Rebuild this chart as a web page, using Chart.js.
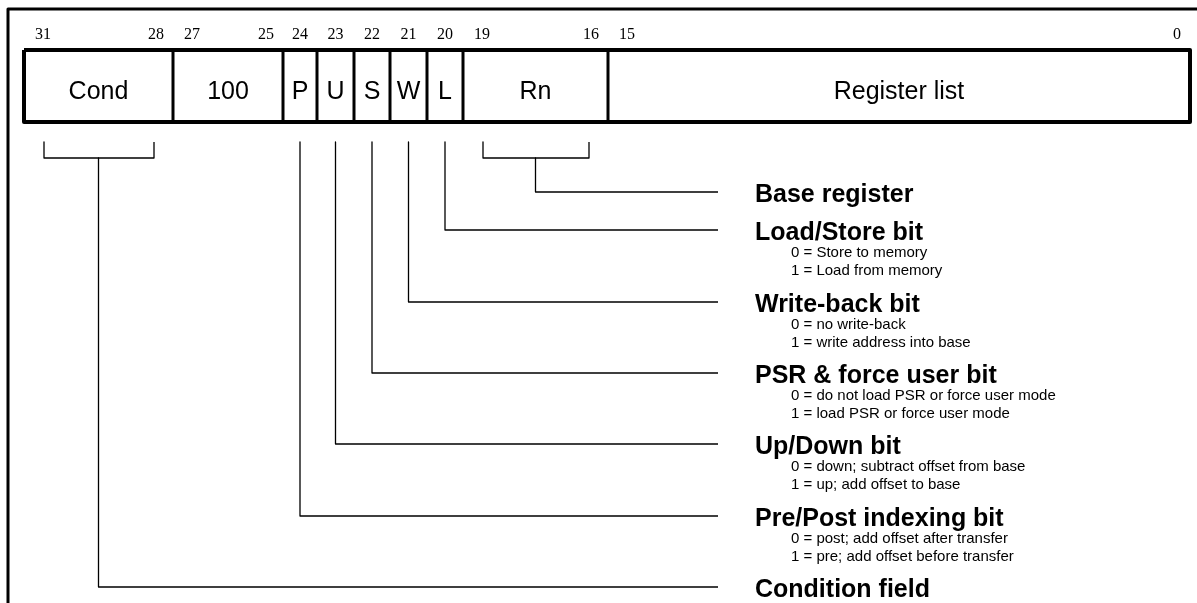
<!DOCTYPE html>
<html lang="en">
<head>
    <meta charset="UTF-8">
    <title>Block data transfer</title>
    <script src="https://cdn.jsdelivr.net/npm/chart.js"></script>
    <style>
        body { margin: 0; background: #fff; }
        canvas { display: block; }
    </style>
</head>
<body>
    <canvas id="diagram" width="1197" height="603"></canvas>

    <script>
        // fields of the instruction word, left to right
        const fieldNames = ['Cond', '100', 'P', 'U', 'S', 'W', 'L', 'Rn', 'Register list'];
        const fieldHiBits = [31, 27, 24, 23, 22, 21, 20, 19, 15];
        const fieldLoBits = [28, 25, 24, 23, 22, 21, 20, 16, 0];
        // field edges along the word (diagram units)
        const fieldEdges = [24, 173, 283, 317, 354, 390, 427, 463, 608, 1190];

        // descriptions, top to bottom, and the field each one points at
        const descFields = ['Rn', 'L', 'W', 'S', 'U', 'P', 'Cond'];
        const descTitles = ['Base register', 'Load/Store bit', 'Write-back bit', 'PSR & force user bit',
            'Up/Down bit', 'Pre/Post indexing bit', 'Condition field'];
        const descLines = [
            [],
            ['0 = Store to memory', '1 = Load from memory'],
            ['0 = no write-back', '1 = write address into base'],
            ['0 = do not load PSR or force user mode', '1 = load PSR or force user mode'],
            ['0 = down; subtract offset from base', '1 = up; add offset to base'],
            ['0 = post; add offset after transfer', '1 = pre; add offset before transfer'],
            []
        ];
        const descRows = [192, 230, 302, 373, 444, 516, 587];

        const boxTop = 50, boxBottom = 122;
        const leaderTop = 142, bracketY = 158, leaderEnd = 718;
        const titleX = 755, subX = 791;

        const seg = (pts, width) => ({
            data: pts.map(p => ({ x: p[0], y: p[1] })),
            showLine: true,
            borderColor: '#000',
            borderWidth: width,
            pointRadius: 0,
            borderJoinStyle: 'round',
            tension: 0
        });

        const datasets = [];
        // outer frame
        datasets.push(seg([[8, 603], [8, 9], [1197, 9]], 3));
        // word box
        const L0 = fieldEdges[0], R0 = fieldEdges[fieldEdges.length - 1];
        datasets.push(seg([[L0, boxTop], [R0, boxTop], [R0, boxBottom], [L0, boxBottom], [L0, boxTop]], 4));
        for (let i = 1; i < fieldEdges.length - 1; i++) {
            datasets.push(seg([[fieldEdges[i], boxTop], [fieldEdges[i], boxBottom]], 3));
        }
        // leaders
        descFields.forEach((f, i) => {
            const k = fieldNames.indexOf(f);
            const a = fieldEdges[k], b = fieldEdges[k + 1];
            const mid = (a + b) / 2;
            const y = descRows[i];
            if (fieldHiBits[k] === fieldLoBits[k]) {
                datasets.push(seg([[mid, leaderTop], [mid, y], [leaderEnd, y]], 1.3));
            } else {
                const l = a + 20, r = b - 19;
                datasets.push(seg([[l, leaderTop], [l, bracketY], [r, bracketY], [r, leaderTop]], 1.3));
                datasets.push(seg([[mid, bracketY], [mid, y], [leaderEnd, y]], 1.3));
            }
        });

        const labels = {
            id: 'labels',
            afterDatasetsDraw(chart) {
                const ctx = chart.ctx;
                const X = v => chart.scales.x.getPixelForValue(v);
                const Y = v => chart.scales.y.getPixelForValue(v);
                ctx.save();
                ctx.fillStyle = '#000';
                ctx.textBaseline = 'middle';

                // bit numbers
                ctx.font = '16px "Liberation Serif", serif';
                fieldNames.forEach((n, k) => {
                    const a = fieldEdges[k], b = fieldEdges[k + 1];
                    if (fieldHiBits[k] === fieldLoBits[k]) {
                        ctx.textAlign = 'center';
                        ctx.fillText(String(fieldHiBits[k]), X((a + b) / 2), Y(35));
                    } else {
                        ctx.textAlign = 'left';
                        ctx.fillText(String(fieldHiBits[k]), X(a + 11), Y(35));
                        ctx.textAlign = 'right';
                        ctx.fillText(String(fieldLoBits[k]), X(b - 9), Y(35));
                    }
                });

                // field names
                ctx.font = '25px "Liberation Sans", Arial, sans-serif';
                ctx.textAlign = 'center';
                fieldNames.forEach((n, k) => {
                    ctx.fillText(n, X((fieldEdges[k] + fieldEdges[k + 1]) / 2), Y(92));
                });

                // descriptions
                ctx.textAlign = 'left';
                descTitles.forEach((t, i) => {
                    ctx.font = 'bold 25px "Liberation Sans", Arial, sans-serif';
                    ctx.fillText(t, X(titleX), Y(descRows[i] + 3));
                    ctx.font = '15px "Liberation Sans", Arial, sans-serif';
                    descLines[i].forEach((s, j) => {
                        ctx.fillText(s, X(subX), Y(descRows[i] + 23 + j * 18));
                    });
                });
                ctx.restore();
            }
        };

        new Chart(document.getElementById('diagram'), {
            type: 'scatter',
            data: { datasets: datasets },
            options: {
                responsive: false,
                animation: false,
                devicePixelRatio: 1,
                layout: { padding: 0 },
                plugins: { legend: { display: false }, tooltip: { enabled: false } },
                scales: {
                    x: { type: 'linear', min: 0, max: 1197, display: false },
                    y: { type: 'linear', min: 0, max: 603, reverse: true, display: false }
                }
            },
            plugins: [labels]
        });
    </script>
</body>
</html>
